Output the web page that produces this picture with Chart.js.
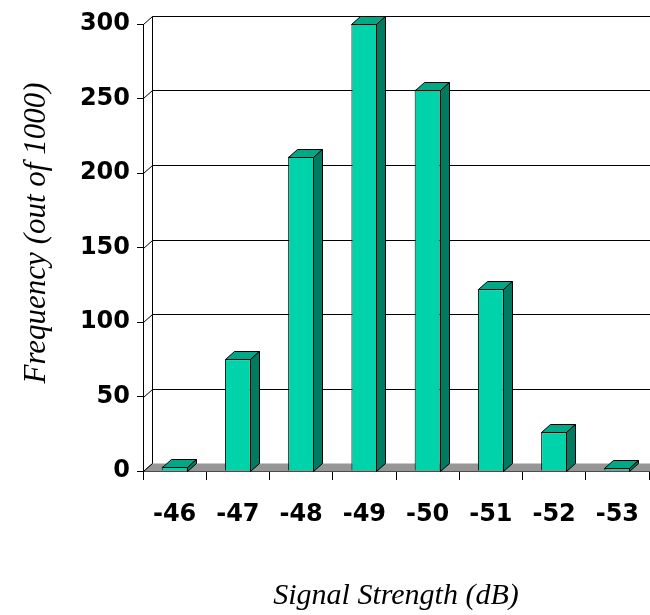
<!DOCTYPE html>
<html><head><meta charset="utf-8">
<script src="https://cdn.jsdelivr.net/npm/chart.js@4.4.0/dist/chart.umd.min.js"></script>
<style>html,body{margin:0;padding:0;background:#fff}#wrap{width:650px;height:615px;position:relative}</style>
</head><body><div id="wrap"><canvas id="c" width="650" height="615"></canvas></div>
<script>
// ---- data ----
const categories = ['-46', '-47', '-48', '-49', '-50', '-51', '-52', '-53'];
const frequency = [3, 75, 211, 300, 256, 122, 26, 2];
const yMin = 0, yMax = 300, yStep = 50;
const xTitle = 'Signal Strength (dB)';
const yTitle = 'Frequency (out of 1000)';

// ---- styling ----
const FRONT = 'rgb(0,210,170)';
const TOP = 'rgb(0,168,136)';
const SIDE = 'rgb(0,122,96)';
const FLOOR = 'rgb(150,150,150)';
const DX = 9, DY = -8;

function poly(ctx, pts, fill) {
  ctx.beginPath();
  ctx.moveTo(pts[0][0], pts[0][1]);
  for (let i = 1; i < pts.length; i++) ctx.lineTo(pts[i][0], pts[i][1]);
  ctx.closePath();
  if (fill) { ctx.fillStyle = fill; ctx.fill(); }
  ctx.stroke();
}
function seg(ctx, x1, y1, x2, y2) {
  ctx.beginPath(); ctx.moveTo(x1, y1); ctx.lineTo(x2, y2); ctx.stroke();
}
function zeroPad(scale) {
  scale.paddingLeft = 0; scale.paddingRight = 0;
  scale.paddingTop = 0; scale.paddingBottom = 0;
}

const threeD = {
  id: 'threeD',
  beforeDatasetsDraw(chart) {
    const { ctx, chartArea: a, scales: { y } } = chart;
    ctx.save();
    ctx.strokeStyle = '#000';
    ctx.lineWidth = 1;
    const L = Math.round(a.left) + 0.5;
    // back wall gridlines + left wall diagonals
    y.ticks.forEach(t => {
      const py = Math.round(y.getPixelForValue(t.value)) + 0.5;
      if (t.value !== yMin) seg(ctx, L + DX, py + DY, chart.width, py + DY);
      seg(ctx, L, py, L + DX, py + DY);
    });
    // back wall vertical edge
    const yTop = Math.round(y.getPixelForValue(yMax)) + 0.5;
    const y0 = Math.round(y.getPixelForValue(yMin)) + 0.5;
    seg(ctx, L + DX, yTop + DY, L + DX, y0 + DY);
    // floor
    ctx.fillStyle = FLOOR;
    ctx.beginPath();
    ctx.moveTo(L, y0); ctx.lineTo(chart.width + 20, y0);
    ctx.lineTo(chart.width + 20, y0 + DY); ctx.lineTo(L + DX, y0 + DY);
    ctx.closePath(); ctx.fill();
    seg(ctx, L, y0, L + DX, y0 + DY);
    ctx.restore();
  },
  afterDatasetsDraw(chart) {
    const { ctx } = chart;
    const meta = chart.getDatasetMeta(0);
    ctx.save();
    ctx.strokeStyle = '#000';
    ctx.lineWidth = 1;
    meta.data.forEach(bar => {
      const p = bar.getProps(['x', 'y', 'base', 'width'], true);
      const l = Math.round(p.x - p.width / 2) + 0.5;
      const r = Math.round(p.x + p.width / 2) - 0.5;
      const t = Math.round(p.y) + 0.5;
      const b = Math.round(p.base) + 0.5;
      poly(ctx, [[l, t], [r, t], [r + DX, t + DY], [l + DX, t + DY]], TOP);
      poly(ctx, [[r, t], [r + DX, t + DY], [r + DX, b + DY], [r, b]], SIDE);
    });
    ctx.restore();
  },
  afterDraw(chart) {
    const { ctx } = chart;
    ctx.save();
    ctx.fillStyle = '#000';
    ctx.textAlign = 'center';
    ctx.textBaseline = 'alphabetic';
    ctx.font = 'italic 30px "Liberation Serif", "DejaVu Serif", serif';
    ctx.fillText(xTitle, 396, 604);
    ctx.font = 'italic 31px "Liberation Serif", "DejaVu Serif", serif';
    ctx.translate(45, 233);
    ctx.rotate(-Math.PI / 2);
    ctx.fillText(yTitle, 0, 0);
    ctx.restore();
  }
};

new Chart(document.getElementById('c'), {
  type: 'bar',
  data: {
    labels: categories,
    datasets: [{
      data: frequency,
      backgroundColor: FRONT,
      borderColor: '#000',
      borderWidth: 1,
      barPercentage: 0.41,
      categoryPercentage: 1,
      clip: false
    }]
  },
  options: {
    responsive: false,
    animation: false,
    devicePixelRatio: 1,
    layout: { padding: { top: 24, right: 1, left: 0, bottom: 0 } },
    plugins: { legend: { display: false }, tooltip: { enabled: false }, title: { display: false } },
    scales: {
      x: {
        type: 'category',
        offset: true,
        grid: { offset: true, drawOnChartArea: false, drawTicks: true, tickLength: 9, tickColor: '#000', lineWidth: 1 },
        border: { display: true, color: '#000', width: 1 },
        ticks: { color: '#000', padding: 20, maxRotation: 0, autoSkip: false,
          font: { family: '"DejaVu Sans", sans-serif', weight: 'bold', size: 24 } },
        afterFit(scale) { scale.height = 144; zeroPad(scale); }
      },
      y: {
        min: yMin, max: yMax,
        grid: { drawOnChartArea: false, drawTicks: true, tickLength: 6, tickColor: '#000', lineWidth: 1 },
        border: { display: true, color: '#000', width: 1 },
        ticks: { stepSize: yStep, color: '#000', padding: 7,
          font: { family: '"DejaVu Sans", sans-serif', weight: 'bold', size: 24 } },
        afterFit(scale) { scale.width = 143; zeroPad(scale); }
      }
    }
  },
  plugins: [threeD]
});
</script>
</body></html>
